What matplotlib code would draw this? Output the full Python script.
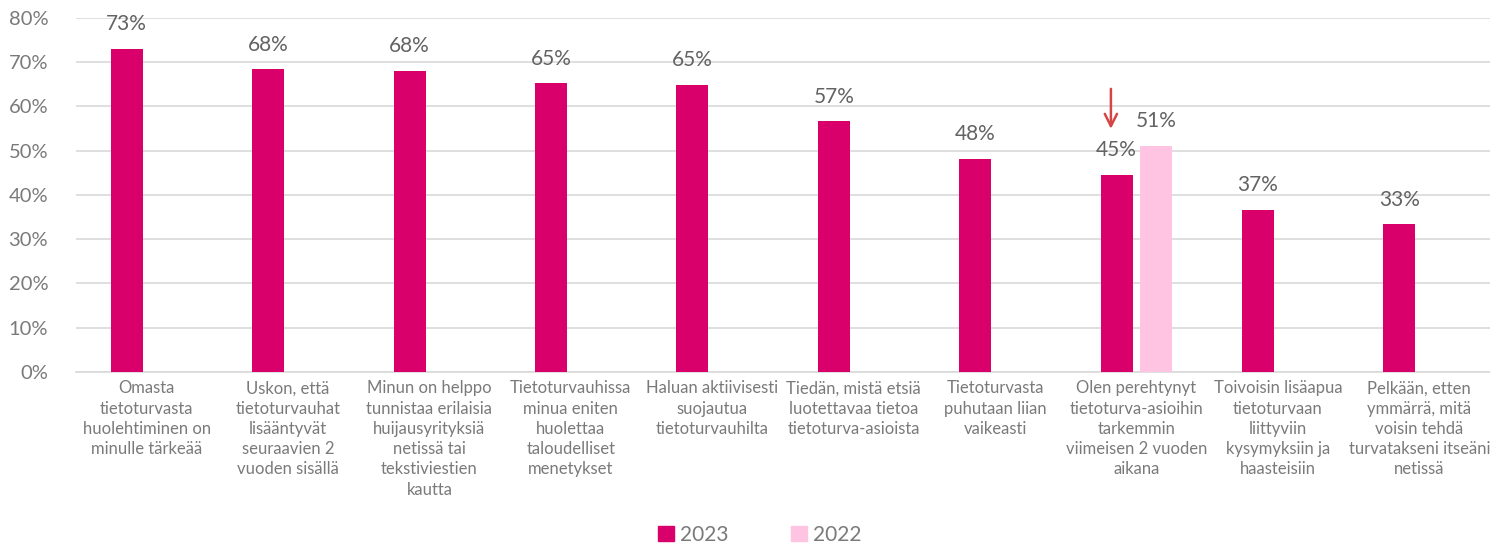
import numpy as np
import matplotlib
matplotlib.use("Agg")
from matplotlib import pyplot as plt
from matplotlib.patches import Patch

plt.rcParams['font.family'] = ['Lato', 'DejaVu Sans']

#DATA
categories = [
    "Omasta\ntietoturvasta\nhuolehtiminen on\nminulle tärkeää",
    "Uskon, että\ntietoturvauhat\nlisääntyvät\nseuraavien 2\nvuoden sisällä",
    "Minun on helppo\ntunnistaa erilaisia\nhuijausyrityksiä\nnetissä tai\ntekstiviestien\nkautta",
    "Tietoturvauhissa\nminua eniten\nhuolettaa\ntaloudelliset\nmenetykset",
    "Haluan aktiivisesti\nsuojautua\ntietoturvauhilta",
    "Tiedän, mistä etsiä\nluotettavaa tietoa\ntietoturva-asioista",
    "Tietoturvasta\npuhutaan liian\nvaikeasti",
    "Olen perehtynyt\ntietoturva-asioihin\ntarkemmin\nviimeisen 2 vuoden\naikana",
    "Toivoisin lisäapua\ntietoturvaan\nliittyviin\nkysymyksiin ja\nhaasteisiin",
    "Pelkään, etten\nymmärrä, mitä\nvoisin tehdä\nturvatakseni itseäni\nnetissä",
]
values_2023 = [0.730, 0.684, 0.680, 0.652, 0.649, 0.566, 0.481, 0.446, 0.366, 0.334]
values_2022 = [None, None, None, None, None, None, None, 0.511, None, None]
series_names = ["2023", "2022"]

COL_2023 = "#D9006C"
COL_2022 = "#FFC4E2"
GRAY = "#7a7a7a"
DARK = "#636363"

fig = plt.figure(figsize=(14.9, 5.43), dpi=100)
ax = fig.add_axes([0.051, 0.315, 0.949, 0.652])

x = np.arange(len(categories))
w = 0.226
off = 0.141

ax.bar(x - off, values_2023, width=w, color=COL_2023, zorder=3)
for i, v in enumerate(values_2023):
    ax.text(i - off, v + 0.033, f"{round(v*100):.0f}%", ha="center", va="bottom",
            fontsize=15, color=DARK)

x22 = [i for i, v in enumerate(values_2022) if v is not None]
v22 = [values_2022[i] for i in x22]
ax.bar(np.array(x22) + off, v22, width=w, color=COL_2022, zorder=3)
for i, v in zip(x22, v22):
    ax.text(i + off, v + 0.033, f"{round(v*100):.0f}%", ha="center", va="bottom",
            fontsize=15, color=DARK)

# arrow marking the drop from 2022
k = x22[0]
ax.annotate("", xy=(k - off - 0.04, values_2022[k] + 0.032),
            xytext=(k - off - 0.04, values_2022[k] + 0.135),
            arrowprops=dict(arrowstyle="->", color="#D64545", lw=1.8,
                            mutation_scale=22))

ax.set_xlim(-0.5, len(categories) - 0.5)
ax.set_ylim(0, 0.8)
ax.set_yticks(np.arange(0, 0.81, 0.1))
ax.set_yticklabels([f"{int(round(t*100))}%" for t in np.arange(0, 0.81, 0.1)])
ax.tick_params(axis="y", length=0, labelsize=14.5, labelcolor=GRAY, pad=20)
ax.set_xticks(x)
ax.set_xticklabels(categories, fontsize=12, color=GRAY, linespacing=1.33)
ax.tick_params(axis="x", length=0, pad=6)
ax.grid(axis="y", color="#d9d9d9", lw=1.2, zorder=0)
for s in ["top", "right", "left"]:
    ax.spines[s].set_visible(False)
ax.spines["bottom"].set_color("#d9d9d9")
ax.spines["bottom"].set_linewidth(1.2)

handles = [Patch(color=COL_2023), Patch(color=COL_2022)]
fig.legend(handles, series_names, loc="lower center", ncol=2, frameon=False,
           bbox_to_anchor=(0.51, -0.038), fontsize=15, labelcolor=GRAY,
           handlelength=0.75, handleheight=0.75, handletextpad=0.3, columnspacing=3.0)

fig.savefig("out.png", dpi=100)
